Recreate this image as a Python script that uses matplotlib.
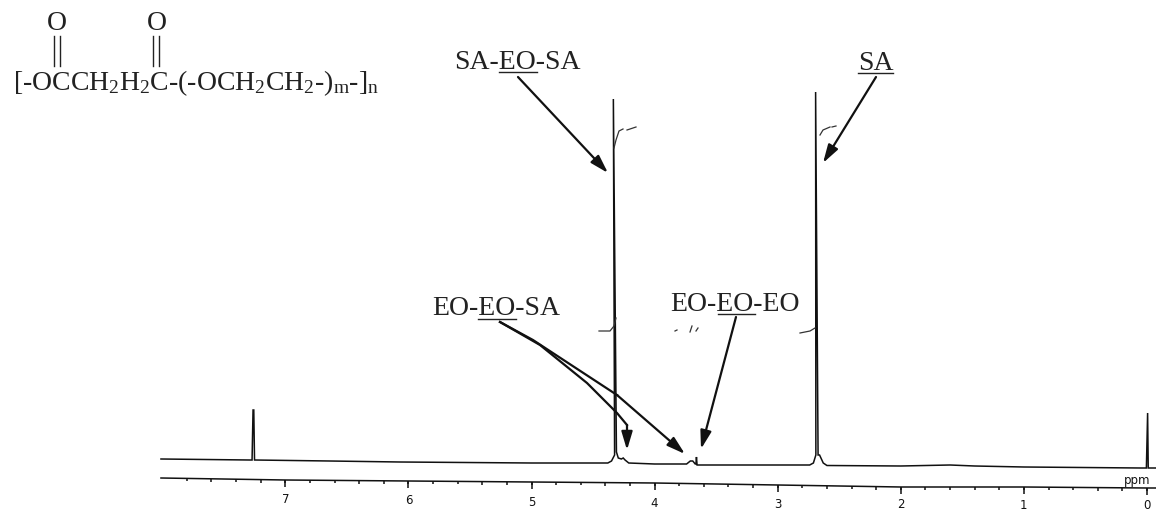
import numpy as np
import matplotlib
matplotlib.use('Agg')
import matplotlib.pyplot as plt

plt.rcParams['font.family'] = ['Liberation Serif', 'DejaVu Serif']
plt.rcParams['mathtext.fontset'] = 'custom'
plt.rcParams['mathtext.rm'] = 'Liberation Serif'
plt.rcParams['mathtext.default'] = 'rm'

# spectrum trace: shift in ppm, height above bottom of the page
ppm = [8.01, 7.29, 7.27, 7.262, 7.256, 7.25, 6.64, 6.07, 5.00, 4.44, 4.38, 4.35,
       4.325, 4.335, 4.31, 4.295, 4.27, 4.255, 4.24, 4.21, 4.00, 3.80, 3.74, 3.71,
       3.69, 3.67, 3.664, 3.66, 3.655, 3.30, 2.74, 2.71, 2.69, 2.692, 2.672, 2.66,
       2.63, 2.60, 2.00, 1.60, 1.40, 1.00, 0.05, 0.005, -0.005, -0.01, -0.07]
height = [52, 51, 51, 101, 101, 51, 50, 49, 48, 48, 48, 50,
          56, 412, 59, 53, 52, 53, 51, 48, 47, 47, 47, 50,
          50, 47, 47, 54, 46, 46, 46, 48, 56, 419, 56, 56,
          48, 45.5, 45, 46, 45, 44, 43, 43, 98, 43, 43]

# ppm scale
scale_ppm = [8.01, 7.0, 6.0, 5.0, 4.0, 3.0, 2.0, 1.0, 0.0, -0.07]
scale_height = [33, 31, 30, 29, 28, 26, 24, 24, 23, 23]
major_ticks = [7, 6, 5, 4, 3, 2, 1, 0]
tick_labels = ['7', '6', '5', '4', '3', '2', '1', '0']
label_height = [12, 11, 9, 8, 7, 7, 6, 6]

# integral trace fragments
integrals = [
    [(614, 148), (616, 140), (619, 131), (623, 129)],
    [(627, 130), (636, 127)],
    [(599, 331), (610, 331), (614, 326), (616, 318)],
    [(820, 135), (823, 130), (830, 127)],
    [(832, 127), (836, 126)],
    [(800, 333), (810, 331), (815, 328)],
    [(675, 331), (677, 330)],
    [(690, 332), (692, 326)],
    [(696, 331), (698, 328)],
]

labels = ['SA-EO-SA', 'EO-EO-SA', 'EO-EO-EO', 'SA']

fig = plt.figure(figsize=(11.56, 5.11), dpi=100)
ax = fig.add_axes([0, 0, 1, 1])
ax.set_xlim(1147 / 123.1, -9 / 123.1)
ax.set_ylim(0, 511)
ax.axis('off')

ax.plot(ppm, height, color='#111111', lw=1.1, solid_joinstyle='miter')
ax.plot(scale_ppm, scale_height, color='#111111', lw=1.1)

minor = np.arange(0, 7.81, 0.2)
minor_y = np.interp(minor, scale_ppm[::-1], scale_height[::-1])
ax.vlines(minor, minor_y - 3, minor_y, color='#111111', lw=1.1)
major_y = np.interp(major_ticks, scale_ppm[::-1], scale_height[::-1])
ax.vlines(major_ticks, major_y - 7, major_y, color='#111111', lw=1.1)
for t, lab, h in zip(major_ticks, tick_labels, label_height):
    ax.text(t + 0.0, h, lab, ha='center', va='center', fontsize=8.5,
            family='DejaVu Sans', color='#111111')
ax.text(0.08, 31, 'ppm', ha='center', va='center', fontsize=8.5,
        family='DejaVu Sans', color='#111111')

# page overlay in pixels for the hand drawn annotation
ov = fig.add_axes([0, 0, 1, 1])
ov.set_xlim(0, 1156)
ov.set_ylim(511, 0)
ov.axis('off')
ov.patch.set_alpha(0)

for seg in integrals:
    xs, ys = zip(*seg)
    ov.plot(xs, ys, color='#333333', lw=0.9)

fs = 20
ov.text(454, 69, labels[0], fontsize=fs, color='#222222', va='baseline')
ov.text(432, 315, labels[1], fontsize=fs, color='#222222', va='baseline')
ov.text(670, 311, labels[2], fontsize=fs, color='#222222', va='baseline')
ov.text(858, 70, labels[3], fontsize=fs, color='#222222', va='baseline')
for x0, x1, y in [(499, 537, 72), (478, 516, 319), (718, 755, 314), (858, 893, 73)]:
    ov.plot([x0, x1], [y, y], color='#222222', lw=1.0)

# formula
ov.text(13, 90, r'[-OCCH$_2$H$_2$C-(-OCH$_2$CH$_2$-)$_m$-]$_n$', fontsize=20,
        color='#222222', va='baseline')
for x in (57, 157):
    ov.text(x, 23, 'O', fontsize=20, color='#222222', ha='center', va='center')
for x in (54, 60, 153, 159):
    ov.plot([x, x], [36, 66], color='#222222', lw=1.0)


def arrow(pts):
    xs, ys = zip(*pts)
    ov.plot(xs[:-1], ys[:-1], color='#111111', lw=1.6)
    ov.annotate('', xy=pts[-1], xytext=pts[-2],
                arrowprops=dict(arrowstyle='-|>,head_width=0.33,head_length=1.1',
                                color='#111111', lw=1.6, shrinkA=0, shrinkB=0))


arrow([(518, 77), (608, 173)])
arrow([(876, 77), (823, 163)])
arrow([(736, 317), (701, 449)])
arrow([(500, 322), (540, 345), (587, 383), (617, 413), (627, 425), (627, 450)])
arrow([(500, 322), (533, 340), (617, 395), (685, 454)])

fig.savefig('out.png', dpi=100)
